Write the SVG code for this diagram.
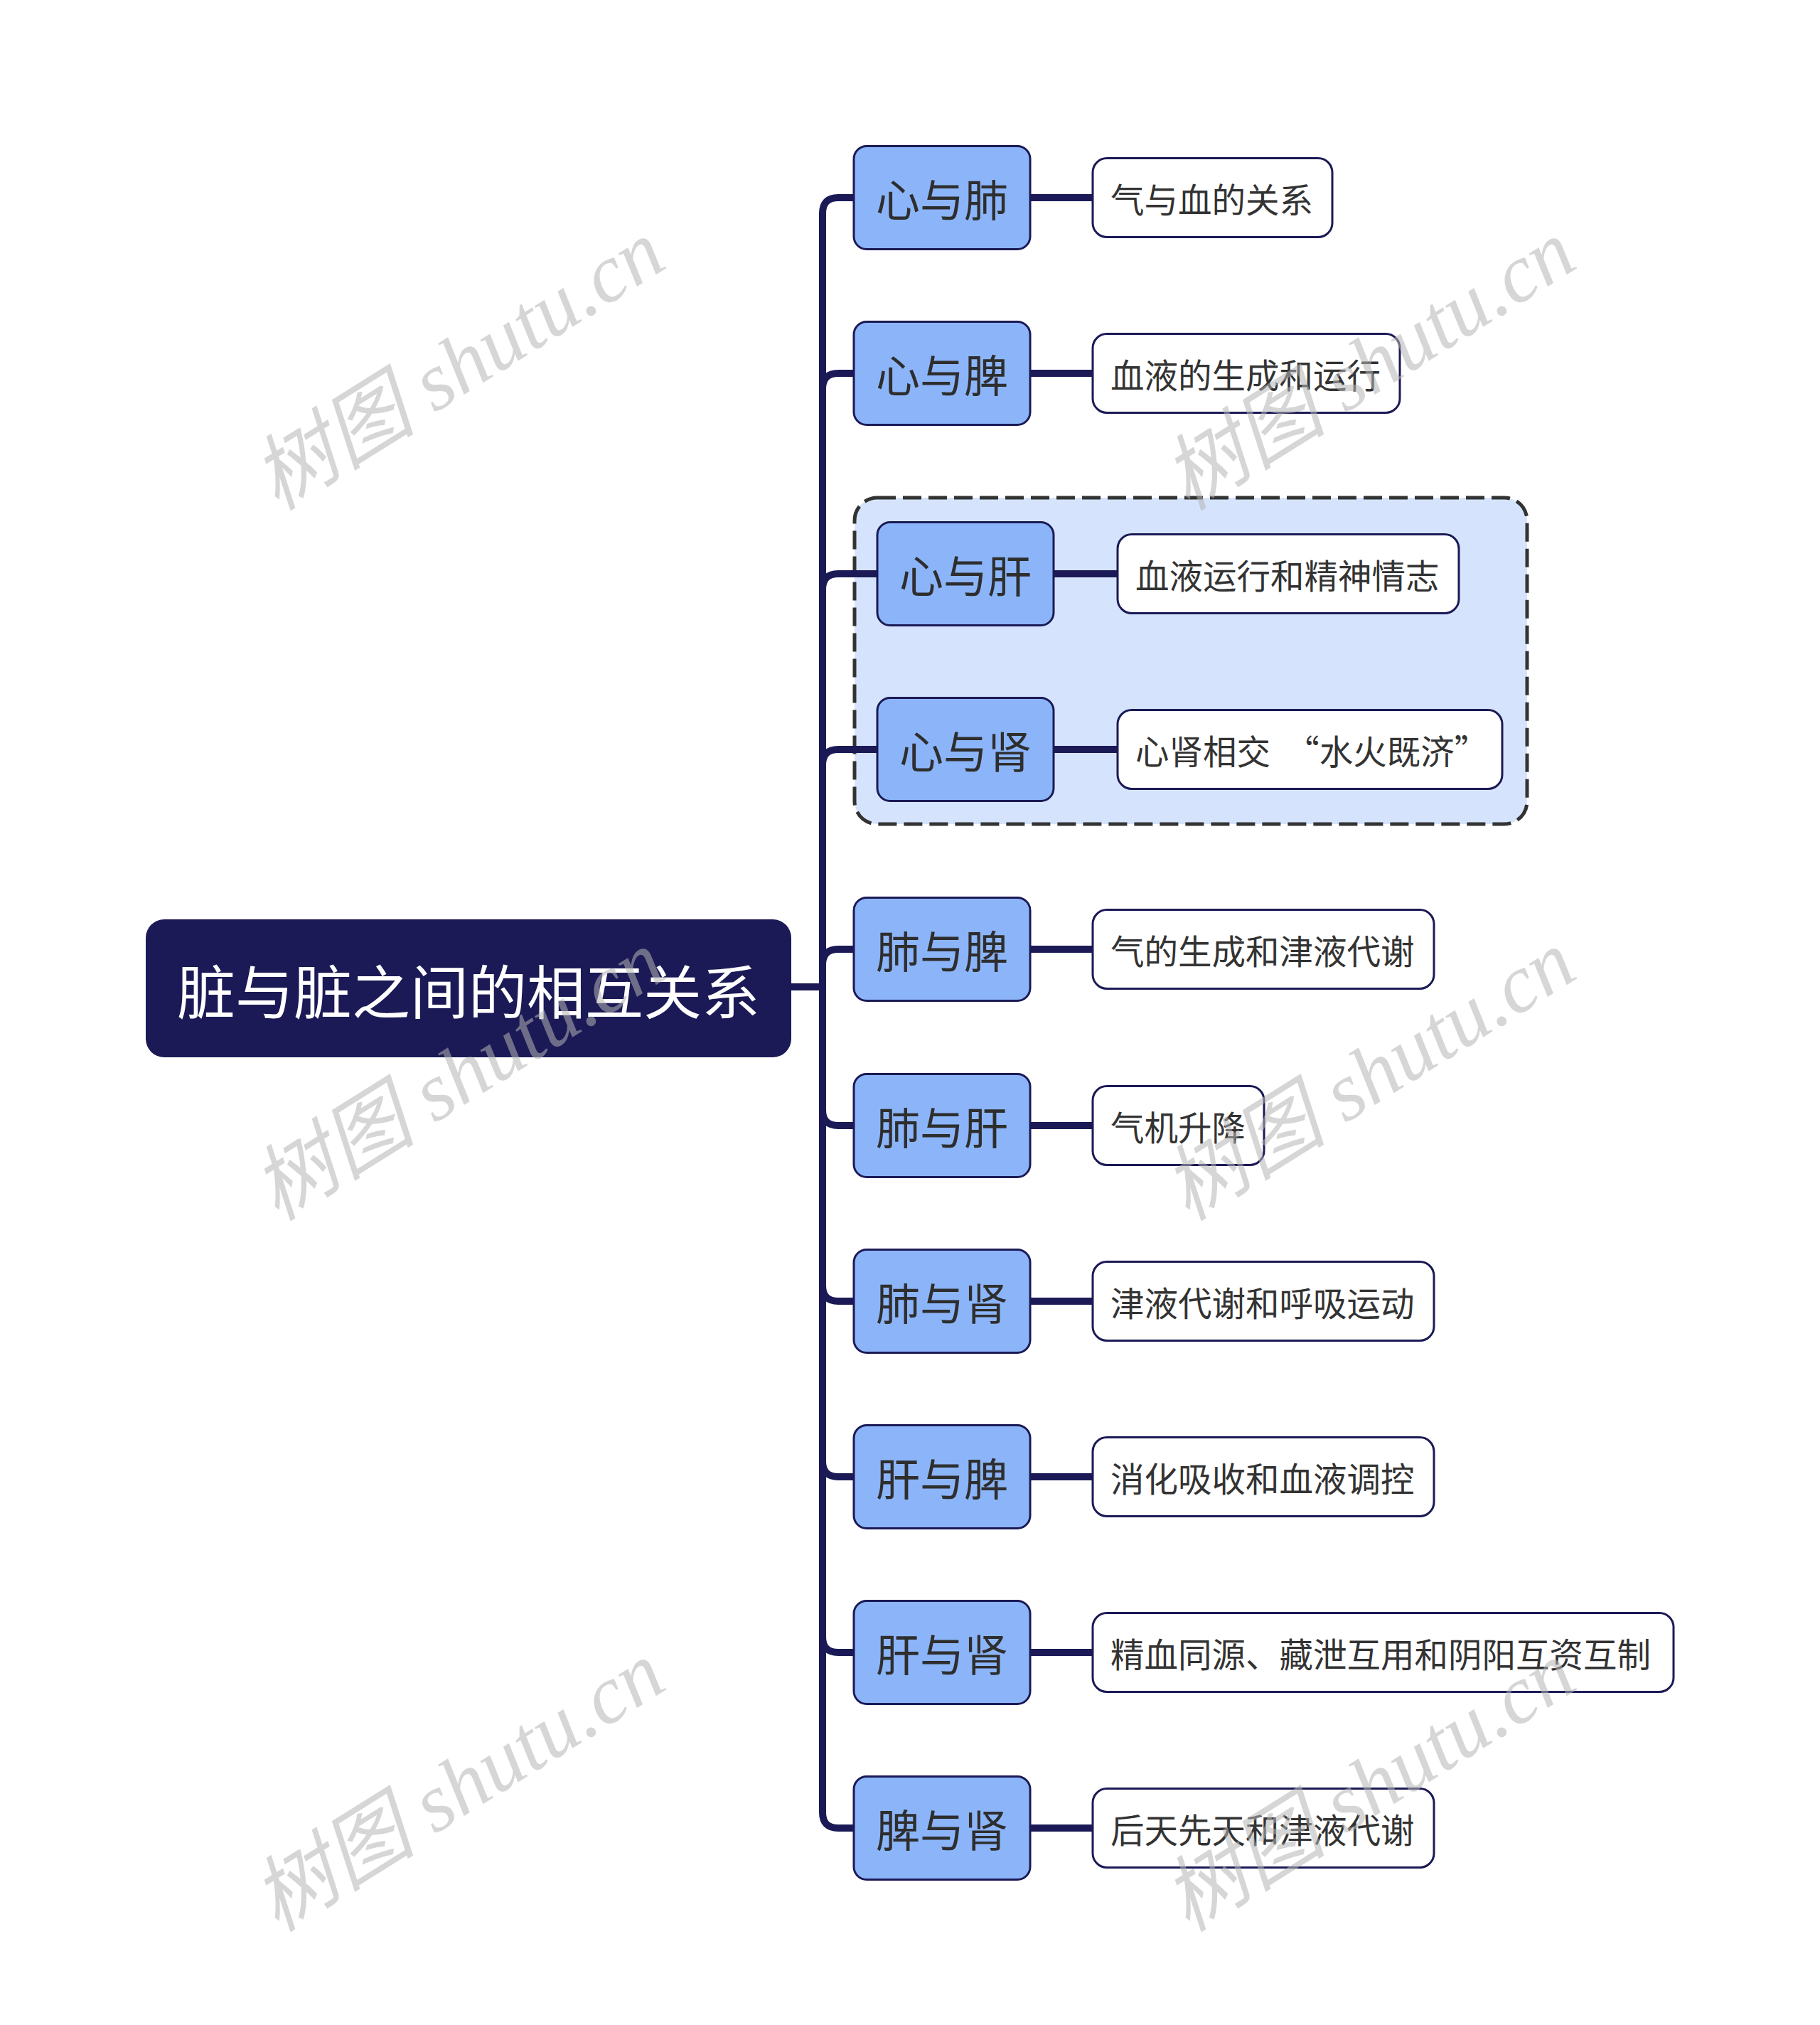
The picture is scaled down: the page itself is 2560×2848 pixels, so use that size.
<svg xmlns="http://www.w3.org/2000/svg" width="2560" height="2848" viewBox="0 0 2560 2848">
<style>
.bg{fill:#ffffff}
.root rect{fill:#1b1a56}
.root text{fill:#ffffff;font-size:82px}
.main rect{fill:#8cb5f9;stroke:#1b1a56;stroke-width:3}
.main text{fill:#2e2e2e;font-size:62px}
.leaf rect{fill:#ffffff;stroke:#1b1a56;stroke-width:3}
.leaf text{fill:#333333;font-size:47.5px}
text{font-family:"Noto Sans CJK SC","Noto Sans",sans-serif}
.main text, .root text{text-anchor:middle}
.conn path{fill:none;stroke:#1b1a56;stroke-width:10;stroke-linejoin:round}
.wm{fill:#b4b4b4;fill-opacity:0.55;font-family:"Liberation Serif","Noto Sans CJK SC",serif;font-style:italic;font-size:116px}
</style>
<rect class="bg" x="0" y="0" width="2560" height="2848"/>

<g id="group-boundary">
<rect x="1202" y="700" width="946" height="459" rx="32" fill="#d5e4fc" stroke="#333333" stroke-width="5" stroke-dasharray="26 10"/>
</g>

<g id="connectors" class="conn">
<path d="M1113 1388 H1157"/>
<path d="M1157 1388 V300 Q1157 278 1179 278 H1201"/>
<path d="M1157 1388 V547 Q1157 525 1179 525 H1201"/>
<path d="M1157 1388 V829 Q1157 807 1179 807 H1234"/>
<path d="M1157 1388 V1076 Q1157 1054 1179 1054 H1234"/>
<path d="M1157 1388 V1357 Q1157 1335 1179 1335 H1201"/>
<path d="M1157 1388 V1561 Q1157 1583 1179 1583 H1201"/>
<path d="M1157 1388 V1808 Q1157 1830 1179 1830 H1201"/>
<path d="M1157 1388 V2055 Q1157 2077 1179 2077 H1201"/>
<path d="M1157 1388 V2302 Q1157 2324 1179 2324 H1201"/>
<path d="M1157 1388 V2549 Q1157 2571 1179 2571 H1201"/>
<path d="M1449 278 H1537"/>
<path d="M1449 525 H1537"/>
<path d="M1482 807 H1572"/>
<path d="M1482 1054 H1572"/>
<path d="M1449 1335 H1537"/>
<path d="M1449 1583 H1537"/>
<path d="M1449 1830 H1537"/>
<path d="M1449 2077 H1537"/>
<path d="M1449 2324 H1537"/>
<path d="M1449 2571 H1537"/>
</g>

<g id="root" class="root">
<rect x="205" y="1293" width="908" height="194" rx="26"/>
<text x="659" y="1390" dominant-baseline="central">脏与脏之间的相互关系</text>
</g>

<g id="n1" class="main"><rect x="1201" y="205.5" width="248" height="145" rx="18"/><text x="1325" y="278" dominant-baseline="central">心与肺</text></g>
<g id="n2" class="main"><rect x="1201" y="452.5" width="248" height="145" rx="18"/><text x="1325" y="525" dominant-baseline="central">心与脾</text></g>
<g id="n3" class="main"><rect x="1234" y="734.5" width="248" height="145" rx="18"/><text x="1358" y="807" dominant-baseline="central">心与肝</text></g>
<g id="n4" class="main"><rect x="1234" y="981.5" width="248" height="145" rx="18"/><text x="1358" y="1054" dominant-baseline="central">心与肾</text></g>
<g id="n5" class="main"><rect x="1201" y="1262.5" width="248" height="145" rx="18"/><text x="1325" y="1335" dominant-baseline="central">肺与脾</text></g>
<g id="n6" class="main"><rect x="1201" y="1510.5" width="248" height="145" rx="18"/><text x="1325" y="1583" dominant-baseline="central">肺与肝</text></g>
<g id="n7" class="main"><rect x="1201" y="1757.5" width="248" height="145" rx="18"/><text x="1325" y="1830" dominant-baseline="central">肺与肾</text></g>
<g id="n8" class="main"><rect x="1201" y="2004.5" width="248" height="145" rx="18"/><text x="1325" y="2077" dominant-baseline="central">肝与脾</text></g>
<g id="n9" class="main"><rect x="1201" y="2251.5" width="248" height="145" rx="18"/><text x="1325" y="2324" dominant-baseline="central">肝与肾</text></g>
<g id="n10" class="main"><rect x="1201" y="2498.5" width="248" height="145" rx="18"/><text x="1325" y="2571" dominant-baseline="central">脾与肾</text></g>

<g id="l1" class="leaf"><rect x="1537" y="222.5" width="337" height="111" rx="20"/><text x="1562" y="278" dominant-baseline="central">气与血的关系</text></g>
<g id="l2" class="leaf"><rect x="1537" y="469.5" width="432" height="111" rx="20"/><text x="1562" y="525" dominant-baseline="central">血液的生成和运行</text></g>
<g id="l3" class="leaf"><rect x="1572" y="751.5" width="480" height="111" rx="20"/><text x="1597" y="807" dominant-baseline="central">血液运行和精神情志</text></g>
<g id="l4" class="leaf"><rect x="1572" y="998.5" width="541" height="111" rx="20"/><text x="1597" y="1054" dominant-baseline="central" xml:space="preserve">心肾相交  “水火既济”</text></g>
<g id="l5" class="leaf"><rect x="1537" y="1279.5" width="480" height="111" rx="20"/><text x="1562" y="1335" dominant-baseline="central">气的生成和津液代谢</text></g>
<g id="l6" class="leaf"><rect x="1537" y="1527.5" width="241" height="111" rx="20"/><text x="1562" y="1583" dominant-baseline="central">气机升降</text></g>
<g id="l7" class="leaf"><rect x="1537" y="1774.5" width="480" height="111" rx="20"/><text x="1562" y="1830" dominant-baseline="central">津液代谢和呼吸运动</text></g>
<g id="l8" class="leaf"><rect x="1537" y="2021.5" width="480" height="111" rx="20"/><text x="1562" y="2077" dominant-baseline="central">消化吸收和血液调控</text></g>
<g id="l9" class="leaf"><rect x="1537" y="2268.5" width="817" height="111" rx="20"/><text x="1562" y="2324" dominant-baseline="central">精血同源、藏泄互用和阴阳互资互制</text></g>
<g id="l10" class="leaf"><rect x="1537" y="2515.5" width="480" height="111" rx="20"/><text x="1562" y="2571" dominant-baseline="central">后天先天和津液代谢</text></g>

<g id="watermarks">
<text class="wm" text-anchor="middle" dominant-baseline="central" transform="translate(645 514) rotate(-32)">树图 shutu.cn</text>
<text class="wm" text-anchor="middle" dominant-baseline="central" transform="translate(1926 514) rotate(-32)">树图 shutu.cn</text>
<text class="wm" text-anchor="middle" dominant-baseline="central" transform="translate(645 1513) rotate(-32)">树图 shutu.cn</text>
<text class="wm" text-anchor="middle" dominant-baseline="central" transform="translate(1926 1513) rotate(-32)">树图 shutu.cn</text>
<text class="wm" text-anchor="middle" dominant-baseline="central" transform="translate(645 2513) rotate(-32)">树图 shutu.cn</text>
<text class="wm" text-anchor="middle" dominant-baseline="central" transform="translate(1926 2513) rotate(-32)">树图 shutu.cn</text>
</g>
</svg>
